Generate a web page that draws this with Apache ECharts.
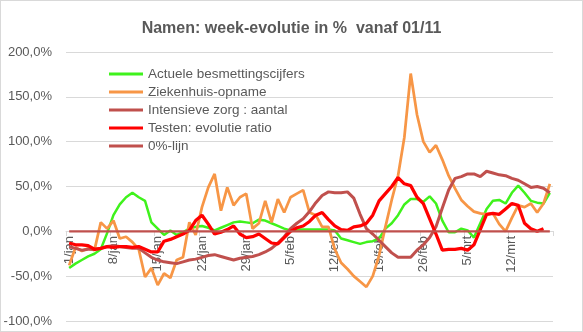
<!DOCTYPE html>
<html>
<head>
<meta charset="utf-8">
<script src="https://cdn.jsdelivr.net/npm/echarts@6/dist/echarts.min.js"></script>
<style>
html,body{margin:0;padding:0;background:#fff;}
#wrap{position:relative;width:583px;height:332px;}
#chart{width:583px;height:332px;}
#frame{position:absolute;left:0;top:0;width:583px;height:332px;box-sizing:border-box;border:1px solid #d9d9d9;pointer-events:none;}
</style>
</head>
<body>
<div id="wrap"><div id="chart"></div><div id="frame"></div></div>
<script>
// Dates 1/jan .. 18/mrt
const months = [['jan', 31], ['feb', 28], ['mrt', 18]];
const categories = [];
months.forEach(([m, n]) => { for (let d = 1; d <= n; d++) categories.push(d + '/' + m); });

const seriesNames = ['Actuele besmettingscijfers', 'Ziekenhuis-opname', 'Intensieve zorg : aantal', 'Testen: evolutie ratio', '0%-lijn'];

const besmettingen = [-41,-36,-32,-28,-25,-20,-2,18,30,38,43,38,34,10,3,-4,1,-4,-1,3,5,6,4,1,4,7,10,11,10,9,13,12,9,6,3,1,2,2,2,2,2,2,1,-8,-10,-12,-14,-12,-11,-8,3,9,18,30,36,36,33,39,31,12,-1,-1,3,1,-7,9,25,34,35,31,43,51,43,34,32,31,43];

const ziekenhuis = [-38,-18,-22,-19,-21,10,3,12,-8,-6,-12,-20,-51,-41,-60,-47,-52,-32,-29,10,-4,27,49,64,23,49,29,38,42,3,9,34,10,36,21,38,42,46,21,18,5,5,-20,-35,-42,-50,-56,-62,-50,-27,5,35,62,105,176,130,100,88,96,80,62,48,35,28,22,20,19,20,8,0,15,29,27,31,21,31,53];

const intensieve = [-17,-19,-21,-20,-20,-19,-17,-16,-17,-18,-19,-19,-24,-29,-32,-34,-35,-36,-34,-32,-31,-29,-27,-26,-28,-30,-32,-30,-29,-28,-26,-23,-19,-13,-6,3,9,14,22,32,40,44,43,43,44,37,19,3,-3,-10,-17,-24,-29,-29,-29,-21,-15,-7,5,26,46,59,61,64,64,61,67,65,63,62,59,57,53,49,50,48,43];

const testen = [-13,-15,-15,-16,-20,-19,-17,-18,-17,-17,-18,-17,-20,-23,-23,-11,-9,-6,-3,1,12,18,8,-3,-1,2,6,-3,-7,-6,-3,-8,-13,-14,-7,0,4,6,11,18,21,13,6,2,1,5,6,9,18,34,42,50,60,53,51,38,31,14,-3,-21,-20,-20,-19,-21,-15,2,19,20,19,25,31,29,9,3,0,3,null];

const nulLijn = categories.map(() => 0);

const yTicks = [-100, -50, 0, 50, 100, 150, 200];

const txt = '#595959';
const chart = echarts.init(document.getElementById('chart'), null, {renderer: 'canvas'});
const mk = (name, data, color, width) => ({
  name, type: 'line', data, symbol: 'none', smooth: false,
  lineStyle: {color, width}, itemStyle: {color}, animation: false
});
chart.setOption({
  animation: false,
  backgroundColor: '#ffffff',
  title: {
    text: 'Namen: week-evolutie in %  vanaf 01/11',
    left: 'center', top: 16,
    textStyle: {fontFamily: 'Liberation Sans', fontSize: 16, fontWeight: 'bold', color: txt}
  },
  legend: {
    orient: 'vertical', left: 109, top: 67, padding: 0,
    icon: 'rect',
    itemWidth: 34, itemHeight: 3, itemGap: 4,
    textStyle: {fontFamily: 'Liberation Sans', fontSize: 13.5, lineHeight: 14, color: txt},
    data: seriesNames
  },
  grid: {left: 66, right: 30, top: 52, bottom: 11, outerBoundsMode: 'none'},
  xAxis: {
    type: 'category', data: categories, boundaryGap: true,
    position: 'bottom', offset: -90,
    axisLine: {onZero: false, lineStyle: {color: '#d9d9d9'}},
    axisTick: {show: true, interval: 6, length: 5, lineStyle: {color: '#d9d9d9'}},
    axisLabel: {interval: 6, rotate: 90, margin: 5, fontFamily: 'Liberation Sans', fontSize: 13, color: txt},
    splitLine: {show: false}
  },
  yAxis: {
    type: 'value', min: yTicks[0], max: yTicks[yTicks.length - 1], interval: 50,
    axisLine: {show: false}, axisTick: {show: false},
    axisLabel: {margin: 14, fontFamily: 'Liberation Sans', fontSize: 13, color: txt,
      formatter: v => v.toFixed(1).replace('.', ',') + '%'},
    splitLine: {lineStyle: {color: '#d9d9d9', width: 1}}
  },
  series: [
    mk(seriesNames[0], besmettingen, '#3ff21c', 2.5),
    mk(seriesNames[1], ziekenhuis, '#f79646', 2.75),
    mk(seriesNames[2], intensieve, '#c0504d', 3),
    mk(seriesNames[3], testen, '#ff0000', 3.25),
    mk(seriesNames[4], nulLijn, '#c0504d', 2.25)
  ]
});
</script>
</body>
</html>
